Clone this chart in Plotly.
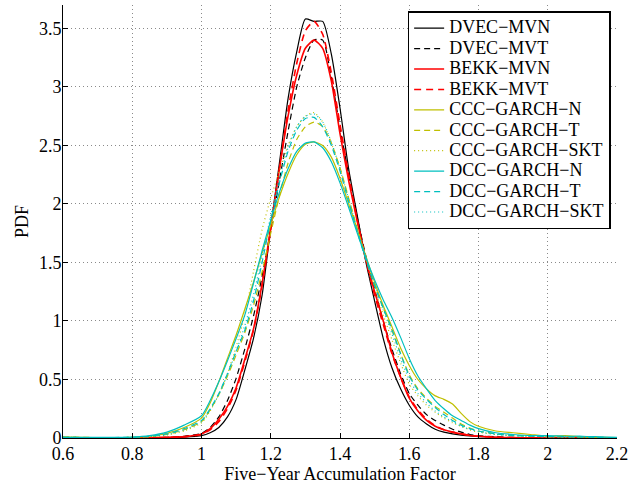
import plotly.graph_objects as go

# Shared x grid (Five-Year Accumulation Factor)
x_grid = [0.6, 0.7, 0.8, 0.85, 0.9, 0.95,
          1.0, 1.025, 1.05, 1.075, 1.1, 1.125, 1.15, 1.175, 1.2, 1.225, 1.25, 1.275,
          1.3, 1.325, 1.35, 1.375, 1.4, 1.425, 1.45, 1.475, 1.5, 1.525, 1.55, 1.575,
          1.6, 1.625, 1.65, 1.675, 1.7, 1.725, 1.75, 1.775, 1.8,
          1.85, 1.9, 1.95, 2.0, 2.05, 2.1, 2.15, 2.2]

dvec_mvn = [0, 0, 0.001, 0.002, 0.004, 0.008,
            0.02, 0.045, 0.09, 0.18, 0.33, 0.58, 0.85, 1.22, 1.80, 2.35, 2.90, 3.30,
            3.58, 3.56, 3.56, 3.28, 2.82, 2.30, 1.90, 1.50, 1.17, 0.85, 0.60, 0.42,
            0.28, 0.18, 0.12, 0.075, 0.05, 0.035, 0.025, 0.017, 0.012,
            0.006, 0.003, 0.002, 0.001, 0, 0, 0, 0]

dvec_mvt = [0, 0, 0.001, 0.003, 0.006, 0.015,
            0.04, 0.09, 0.18, 0.32, 0.51, 0.76, 1.04, 1.38, 1.78, 2.20, 2.62, 3.00,
            3.25, 3.40, 3.40, 3.08, 2.65, 2.25, 1.88, 1.55, 1.27, 1.00, 0.76, 0.55,
            0.38, 0.28, 0.20, 0.15, 0.11, 0.075, 0.05, 0.03, 0.02,
            0.01, 0.005, 0.002, 0.001, 0, 0, 0, 0]

bekk_mvn = [0, 0, 0.001, 0.002, 0.005, 0.012,
            0.035, 0.08, 0.16, 0.27, 0.43, 0.67, 0.93, 1.32, 1.80, 2.30, 2.75, 3.10,
            3.33, 3.40, 3.33, 3.05, 2.60, 2.20, 1.85, 1.52, 1.25, 1.00, 0.73, 0.52,
            0.34, 0.23, 0.15, 0.10, 0.07, 0.05, 0.035, 0.022, 0.015,
            0.007, 0.003, 0.002, 0.001, 0, 0, 0, 0]

bekk_mvt = [0, 0, 0.001, 0.002, 0.004, 0.01,
            0.03, 0.07, 0.14, 0.25, 0.41, 0.65, 0.92, 1.30, 1.78, 2.30, 2.80, 3.20,
            3.48, 3.56, 3.45, 3.12, 2.68, 2.25, 1.86, 1.52, 1.22, 0.97, 0.72, 0.52,
            0.35, 0.24, 0.16, 0.105, 0.07, 0.05, 0.035, 0.022, 0.015,
            0.007, 0.003, 0.002, 0.001, 0, 0, 0, 0]

ccc_n = [0.01, 0.004, 0.005, 0.015, 0.04, 0.09,
         0.17, 0.30, 0.48, 0.68, 0.88, 1.10, 1.33, 1.58, 1.82, 2.06, 2.26, 2.42,
         2.51, 2.53, 2.50, 2.40, 2.22, 2.00, 1.78, 1.55, 1.33, 1.13, 0.95, 0.77,
         0.62, 0.50, 0.42, 0.36, 0.33, 0.29, 0.21, 0.14, 0.10,
         0.06, 0.045, 0.03, 0.015, 0.02, 0.01, 0.005, 0.003]

ccc_t = [0.008, 0.004, 0.005, 0.012, 0.03, 0.07,
         0.14, 0.24, 0.37, 0.53, 0.71, 0.90, 1.13, 1.42, 1.75, 2.07, 2.35, 2.55,
         2.66, 2.70, 2.66, 2.52, 2.31, 2.05, 1.79, 1.54, 1.31, 1.11, 0.92, 0.72,
         0.54, 0.42, 0.34, 0.27, 0.22, 0.17, 0.12, 0.085, 0.06,
         0.035, 0.025, 0.018, 0.012, 0.012, 0.008, 0.005, 0.003]

ccc_skt = [0.005, 0.004, 0.005, 0.01, 0.025, 0.06,
           0.13, 0.23, 0.37, 0.55, 0.78, 1.05, 1.42, 1.78, 2.05, 2.28, 2.50, 2.66,
           2.75, 2.78, 2.70, 2.52, 2.30, 2.04, 1.78, 1.52, 1.28, 1.05, 0.84, 0.64,
           0.46, 0.36, 0.28, 0.22, 0.17, 0.13, 0.10, 0.07, 0.05,
           0.03, 0.02, 0.015, 0.01, 0.008, 0.006, 0.004, 0.002]

dcc_n = [0.005, 0.005, 0.008, 0.02, 0.05, 0.11,
         0.19, 0.32, 0.48, 0.66, 0.85, 1.05, 1.32, 1.60, 1.86, 2.10, 2.30, 2.45,
         2.52, 2.53, 2.48, 2.36, 2.18, 1.97, 1.75, 1.54, 1.35, 1.18, 1.03, 0.86,
         0.68, 0.53, 0.42, 0.32, 0.25, 0.19, 0.15, 0.11, 0.08,
         0.045, 0.03, 0.02, 0.02, 0.015, 0.015, 0.01, 0.005]

dcc_t = [0.005, 0.004, 0.006, 0.015, 0.035, 0.08,
         0.15, 0.25, 0.38, 0.55, 0.74, 0.92, 1.17, 1.50, 1.86, 2.18, 2.45, 2.63,
         2.73, 2.74, 2.66, 2.50, 2.28, 2.02, 1.76, 1.52, 1.30, 1.11, 0.93, 0.72,
         0.53, 0.41, 0.33, 0.26, 0.20, 0.15, 0.11, 0.08, 0.06,
         0.035, 0.02, 0.015, 0.012, 0.01, 0.008, 0.005, 0.003]

dcc_skt = [0.005, 0.004, 0.005, 0.012, 0.03, 0.07,
           0.14, 0.24, 0.37, 0.54, 0.74, 0.96, 1.22, 1.55, 1.90, 2.22, 2.48, 2.66,
           2.75, 2.77, 2.70, 2.53, 2.30, 2.04, 1.78, 1.54, 1.31, 1.10, 0.89, 0.68,
           0.50, 0.38, 0.30, 0.23, 0.18, 0.14, 0.10, 0.075, 0.055,
           0.03, 0.02, 0.015, 0.01, 0.008, 0.006, 0.004, 0.002]

series_names = ["DVEC−MVN", "DVEC−MVT", "BEKK−MVN", "BEKK−MVT",
                "CCC−GARCH−N", "CCC−GARCH−T", "CCC−GARCH−SKT",
                "DCC−GARCH−N", "DCC−GARCH−T", "DCC−GARCH−SKT"]
series_values = [dvec_mvn, dvec_mvt, bekk_mvn, bekk_mvt,
                 ccc_n, ccc_t, ccc_skt, dcc_n, dcc_t, dcc_skt]

x_ticks = [0.6, 0.8, 1.0, 1.2, 1.4, 1.6, 1.8, 2.0, 2.2]
x_ticktext = ["0.6", "0.8", "1", "1.2", "1.4", "1.6", "1.8", "2", "2.2"]
y_ticks = [0, 0.5, 1, 1.5, 2, 2.5, 3, 3.5]
y_ticktext = ["0", "0.5", "1", "1.5", "2", "2.5", "3", "3.5"]

BLACK = "#000000"
RED = "#FF0000"
YEL = "#BFBF00"
CYN = "#00BFBF"
styles = [
    (BLACK, "solid", 1.2), (BLACK, "6px,4px", 1.2),
    (RED, "solid", 1.6), (RED, "7px,5px", 1.6),
    (YEL, "solid", 1.2), (YEL, "6px,4px", 1.2), (YEL, "1px,3px", 1.2),
    (CYN, "solid", 1.2), (CYN, "6px,4px", 1.2), (CYN, "1px,3px", 1.2),
]

FONT = "Liberation Serif, Times New Roman, serif"

fig = go.Figure()
for name, vals, (col, dash, w) in zip(series_names, series_values, styles):
    fig.add_trace(go.Scatter(
        x=x_grid, y=vals, mode="lines",
        name='<span style="font-size:18px">' + name + '</span>',
        line=dict(color=col, dash=dash, width=w, shape="spline", smoothing=0.6),
    ))

axis_common = dict(
    showline=True, linecolor="black", linewidth=1,
    ticks="inside", ticklen=5, tickwidth=1, tickcolor="black",
    showgrid=True, gridcolor="#8a8a8a", gridwidth=1, griddash="1px,3px",
    zeroline=False, mirror=False,
    tickfont=dict(family=FONT, size=18, color="black"),
)

fig.update_layout(
    width=633, height=485,
    margin=dict(l=63, r=13, t=4.5, b=47),
    paper_bgcolor="white", plot_bgcolor="white",
    font=dict(family=FONT, size=18, color="black"),
    xaxis=dict(range=[0.6, 2.2], tickvals=x_ticks, ticktext=x_ticktext,
               ticklabelstandoff=-1,
               title=dict(text="Five−Year Accumulation Factor",
                          font=dict(family=FONT, size=18), standoff=0),
               **axis_common),
    yaxis=dict(range=[0, 3.7], tickvals=y_ticks, ticktext=y_ticktext,
               ticklabelstandoff=-3,
               title=dict(text="PDF", font=dict(family=FONT, size=18), standoff=5),
               **axis_common),
    legend=dict(x=0.9885, y=0.985, xanchor="right", yanchor="top",
                bgcolor="white", bordercolor="black", borderwidth=1.5,
                font=dict(family=FONT, size=13.4, color="black"),
                tracegroupgap=0, itemwidth=30),
    showlegend=True,
)

fig.write_html("out.html")
